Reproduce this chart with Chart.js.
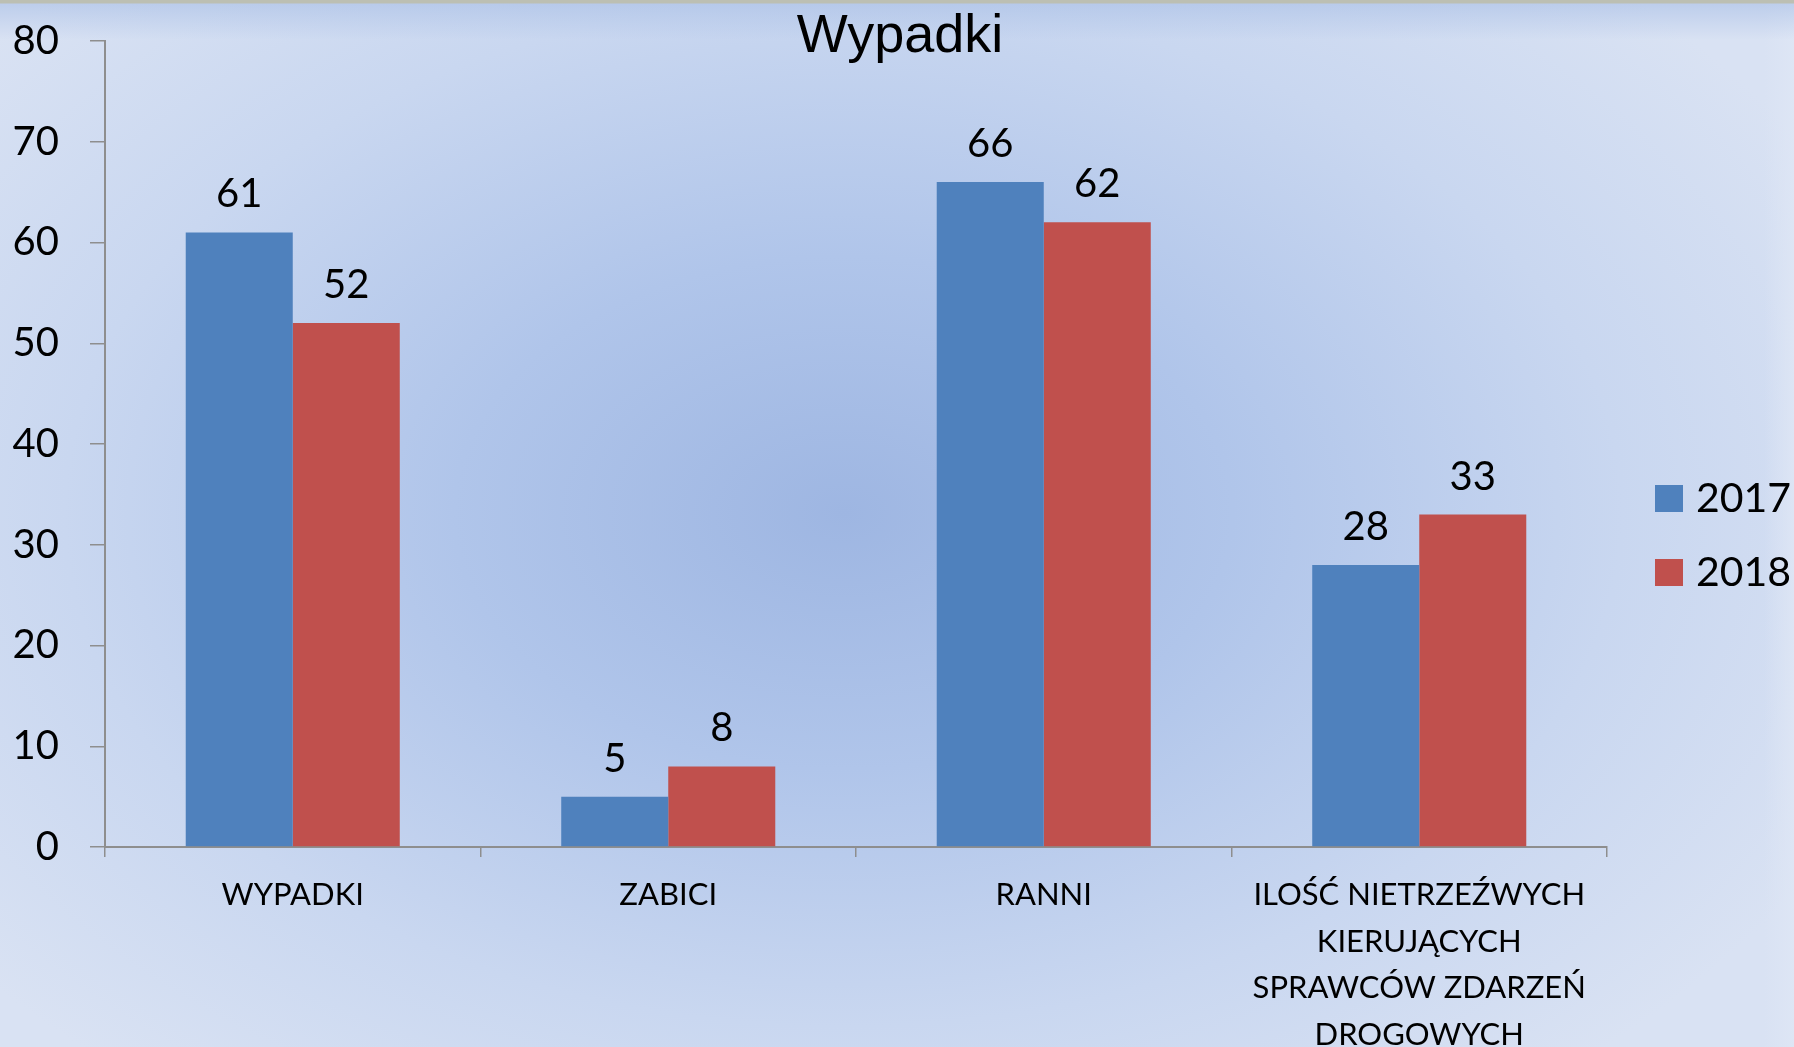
<!DOCTYPE html>
<html>
<head>
<meta charset="utf-8">
<script src="https://cdn.jsdelivr.net/npm/chart.js@4"></script>
<style>
    html, body { margin: 0; padding: 0; overflow: hidden; }
    body {
        width: 1794px;
        height: 1047px;
        background:
            linear-gradient(to bottom, #bcbfb3 0px, #bcbfb3 3px, rgba(170,192,230,0.6) 4px, rgba(190,206,236,0) 40px),
            linear-gradient(to left, rgba(222,230,245,0.9) 0px, rgba(222,230,245,0) 30px),
            radial-gradient(ellipse 62% 70% at 47% 49%, #9eb6e2 0%, #b0c5ea 35%, #c9d7f0 70%, #d9e2f3 100%);
    }
    #wrap { position: relative; width: 1794px; height: 1047px; }
</style>
</head>
<body>
<div id="wrap"><canvas id="chart"></canvas></div>
<script>
var categories = ["WYPADKI", "ZABICI", "RANNI", ["ILOŚĆ NIETRZEŹWYCH", "KIERUJĄCYCH", "SPRAWCÓW ZDARZEŃ", "DROGOWYCH"]];
var values2017 = [61, 5, 66, 28];
var values2018 = [52, 8, 62, 33];
var yTicks = [0, 10, 20, 30, 40, 50, 60, 70, 80];
var chartTitle = "Wypadki";

var bodyFont = "Lato, 'Open Sans', sans-serif";
var axisGray = "#8e8e8e";

// value labels above each bar
var barValues = {
    id: "barValues",
    afterDatasetsDraw: (chart) => {
        var ctx = chart.ctx;
        ctx.save();
        ctx.font = "40px " + bodyFont;
        ctx.fillStyle = "#000";
        ctx.textAlign = "center";
        ctx.textBaseline = "alphabetic";
        chart.data.datasets.forEach((ds, i) => {
            chart.getDatasetMeta(i).data.forEach((bar, j) => {
                ctx.fillText(String(ds.data[j]), bar.x, bar.y - 25);
            });
        });
        ctx.restore();
    }
};

// title sits over the top of the plot, like in the original
var overlayTitle = {
    id: "overlayTitle",
    afterDraw: (chart) => {
        var ctx = chart.ctx;
        ctx.save();
        ctx.font = "54px 'Liberation Sans', Arial, sans-serif";
        ctx.fillStyle = "#000";
        ctx.textAlign = "center";
        ctx.textBaseline = "alphabetic";
        ctx.fillText(chartTitle, 900, 52);
        ctx.restore();
    }
};

// legend to the right of the plot, one square + year per dataset
var sideLegend = {
    id: "sideLegend",
    afterDraw: (chart) => {
        var ctx = chart.ctx;
        var x = chart.chartArea.right + 48;
        var y = 498;
        ctx.save();
        ctx.font = "41px " + bodyFont;
        ctx.textAlign = "left";
        ctx.textBaseline = "middle";
        chart.data.datasets.forEach((ds) => {
            ctx.fillStyle = ds.backgroundColor;
            ctx.fillRect(x, y - 13, 28, 27);
            ctx.fillStyle = "#000";
            ctx.fillText(ds.label, x + 41, y + 1);
            y += 74;
        });
        ctx.restore();
    }
};

new Chart(document.getElementById("chart").getContext("2d"), {
    type: "bar",
    data: {
        labels: categories,
        datasets: [{
            label: "2017",
            data: values2017,
            backgroundColor: "#4f81bd"
        }, {
            label: "2018",
            data: values2018,
            backgroundColor: "#c0504d"
        }]
    },
    options: {
        responsive: true,
        maintainAspectRatio: false,
        animation: false,
        categoryPercentage: 0.57,
        barPercentage: 1,
        layout: {
            padding: { top: 41, left: 12, right: 187, bottom: 0 }
        },
        plugins: {
            title: { display: false },
            tooltip: { enabled: false },
            legend: { display: false }
        },
        scales: {
            x: {
                offset: true,
                afterFit: (axis) => {
                    axis.height = 200;
                    axis.paddingTop = 0;
                    axis.paddingBottom = 0;
                },
                grid: {
                    offset: true,
                    drawOnChartArea: false,
                    tickLength: 10,
                    color: axisGray,
                    lineWidth: 1.5
                },
                border: { color: axisGray, width: 2 },
                ticks: {
                    font: { family: bodyFont, size: 31, lineHeight: 1.5 },
                    color: "#000",
                    padding: 15,
                    maxRotation: 0,
                    autoSkip: false
                }
            },
            y: {
                min: 0,
                max: 80,
                afterFit: (axis) => {
                    axis.width = 93;
                    axis.paddingTop = 0;
                    axis.paddingBottom = 0;
                },
                afterBuildTicks: (axis) => {
                    axis.ticks = yTicks.map((v) => ({ value: v }));
                },
                grid: {
                    drawOnChartArea: false,
                    tickLength: 15,
                    color: axisGray,
                    lineWidth: 1.5
                },
                border: { color: axisGray, width: 2 },
                ticks: {
                    font: { family: bodyFont, size: 40 },
                    color: "#000",
                    padding: 31
                }
            }
        }
    },
    plugins: [barValues, overlayTitle, sideLegend]
});
</script>
</body>
</html>
